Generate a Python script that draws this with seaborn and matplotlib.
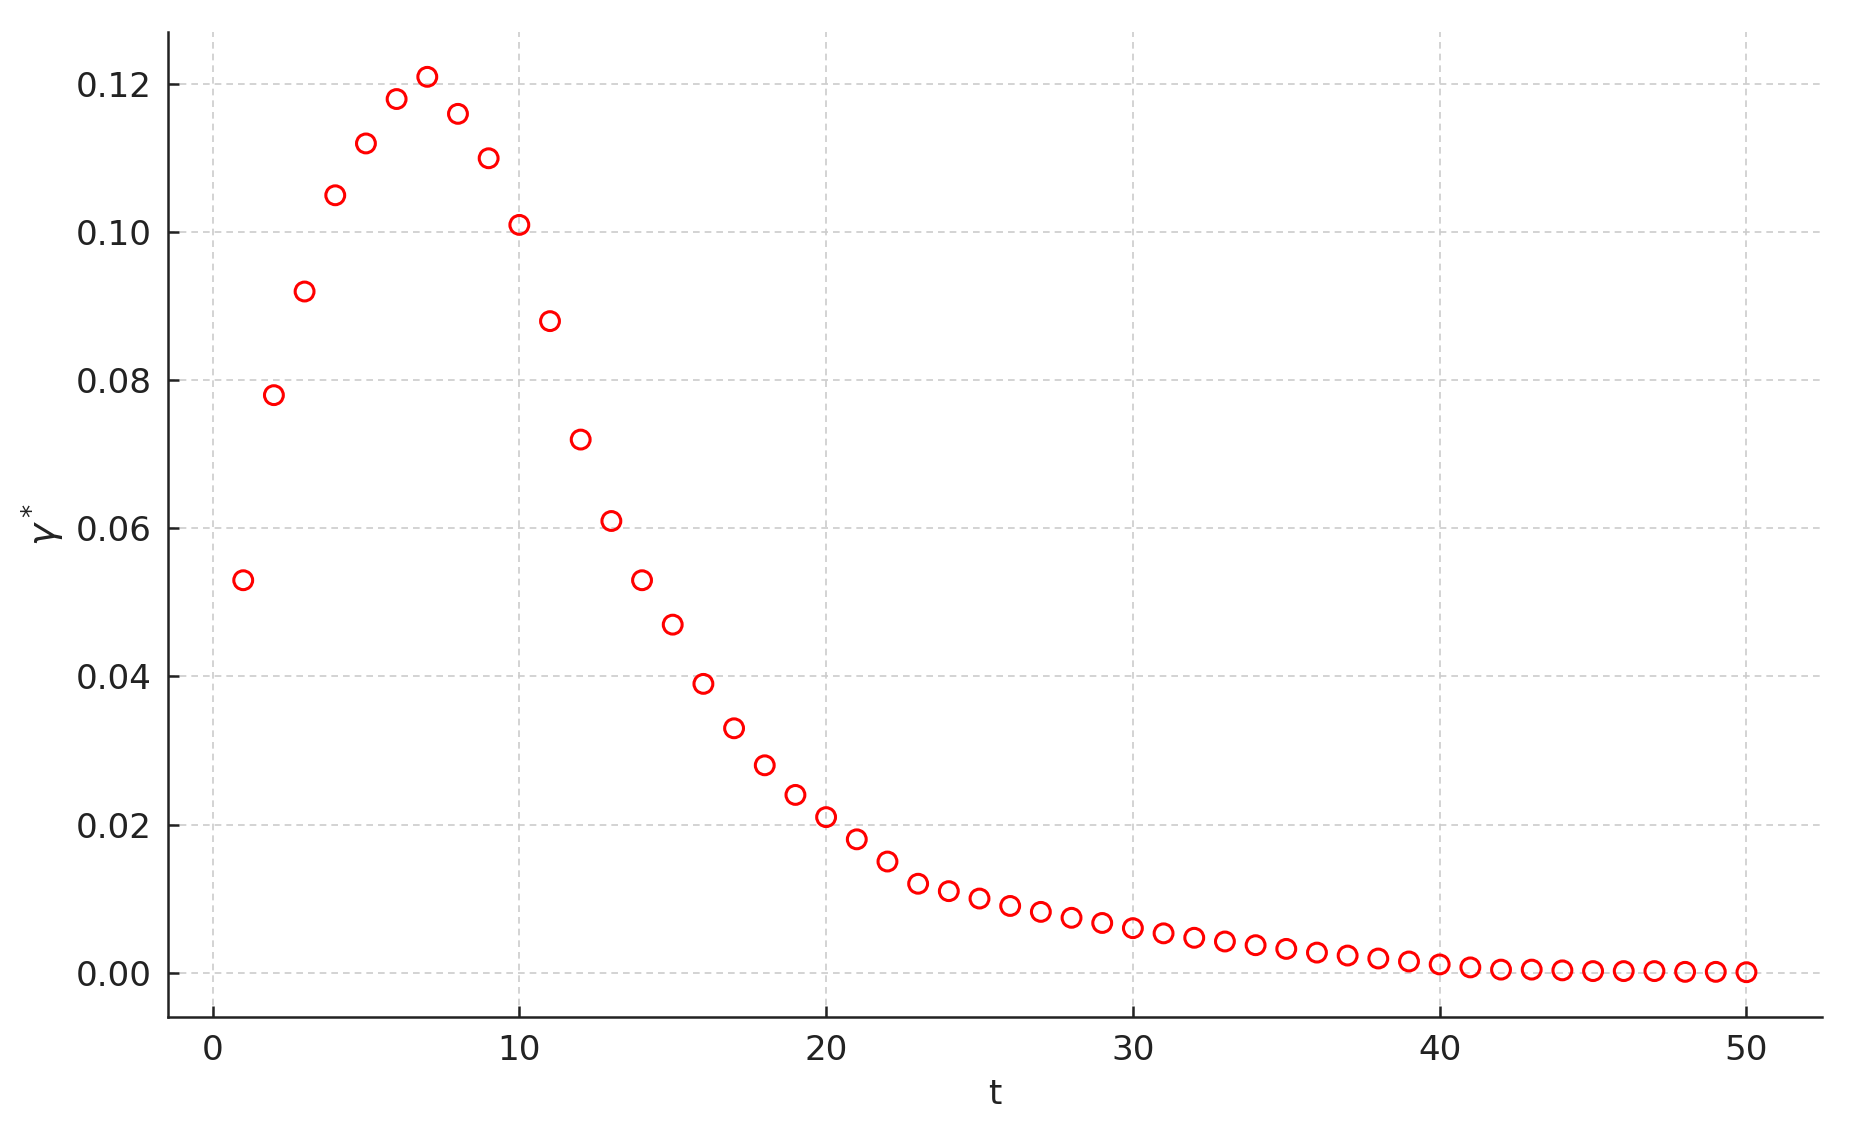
import numpy as np
import pandas as pd
import matplotlib
matplotlib.use("Agg")
import matplotlib.pyplot as plt
import seaborn as sns

t = list(range(1, 51))
gamma_star = [
    0.053, 0.078, 0.092, 0.105, 0.112, 0.118, 0.121, 0.116, 0.110, 0.101,
    0.088, 0.072, 0.061, 0.053, 0.047, 0.039, 0.033, 0.028, 0.024, 0.021,
    0.018, 0.015, 0.012, 0.011, 0.010, 0.0090, 0.0082, 0.0074, 0.0067, 0.0060,
    0.0053, 0.0047, 0.0042, 0.0037, 0.0032, 0.0027, 0.0023, 0.0019, 0.0015, 0.0011,
    0.0007, 0.0004, 0.0004, 0.0003, 0.0002, 0.0002, 0.0002, 0.0001, 0.0001, 0.00005,
]
x_ticks = [0, 10, 20, 30, 40, 50]
y_ticks = [0.00, 0.02, 0.04, 0.06, 0.08, 0.10, 0.12]

df = pd.DataFrame({"t": t, "gamma": gamma_star})

sns.set_style("ticks")
plt.rcParams['font.family'] = ['DejaVu Sans']

fig = plt.figure(figsize=(9.275, 5.665), dpi=200)
ax = fig.add_axes([0.0906, 0.1024, 0.8914, 0.8693])

sns.scatterplot(data=df, x="t", y="gamma", ax=ax, marker="o", s=46,
                facecolor="none", edgecolor="red", linewidth=1.1, zorder=3)

ax.set_xticks(x_ticks)
ax.set_yticks(y_ticks)
ax.set_yticklabels([f"{v:.2f}" for v in y_ticks])
ax.margins(0.05)

ax.grid(True, linestyle=(0, (4, 3)), color="#cccccc", linewidth=0.6)
ax.set_axisbelow(True)
for s in ["top", "right"]:
    ax.spines[s].set_visible(False)
for s in ["left", "bottom"]:
    ax.spines[s].set_linewidth(0.9)
    ax.spines[s].set_color("#222222")

ax.tick_params(direction="in", length=4, width=0.9, colors="#222222",
               labelsize=12.3, pad=6)
ax.set_xlabel("t", fontsize=12.3, color="#222222", labelpad=4)
ax.set_ylabel(r"$\gamma^*$", fontsize=13.5, color="#222222", labelpad=3)

fig.savefig("out.png", dpi=200)
